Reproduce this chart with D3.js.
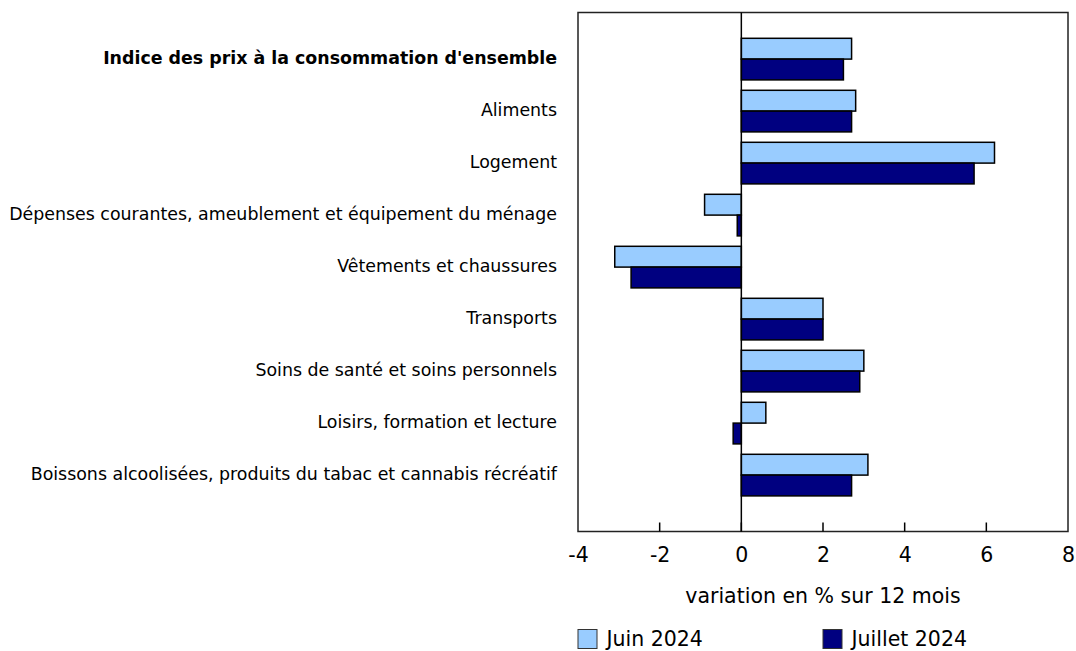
<!DOCTYPE html>
<html>
<head>
<meta charset="utf-8">
<script src="https://cdn.jsdelivr.net/npm/d3@7"></script>
<style>
  body { margin: 0; background: #fff; }
  text { font-family: "DejaVu Sans", Verdana, sans-serif; fill: #000; }
</style>
</head>
<body>
<div id="chart"></div>
<script>
// Categories and values (12-month % change)
var categories = [
    "Indice des prix à la consommation d'ensemble",
    "Aliments",
    "Logement",
    "Dépenses courantes, ameublement et équipement du ménage",
    "Vêtements et chaussures",
    "Transports",
    "Soins de santé et soins personnels",
    "Loisirs, formation et lecture",
    "Boissons alcoolisées, produits du tabac et cannabis récréatif"
];
var juin = [2.7, 2.8, 6.2, -0.9, -3.1, 2.0, 3.0, 0.6, 3.1];
var juillet = [2.5, 2.7, 5.7, -0.1, -2.7, 2.0, 2.9, -0.2, 2.7];
var series_names = ["Juin 2024", "Juillet 2024"];
var series_colors = ["#99ccff", "#000080"];
var x_ticks = [-4, -2, 0, 2, 4, 6, 8];

var chart_width = 1076;
var chart_height = 651;
var plot_left = 578;
var plot_right = 1068;
var plot_top = 12.5;
var plot_bottom = 531.5;

var svg = d3.select('#chart')
    .append('svg')
    .attr('width', chart_width)
    .attr('height', chart_height);

// Scales
var x_scale = d3.scaleLinear()
    .domain([-4, 8])
    .range([plot_left, plot_right]);

var y_scale = d3.scaleBand()
    .domain(d3.range(categories.length))
    .range([plot_top + 20.6, plot_top + 488.6])
    .paddingInner(0.2)
    .paddingOuter(0.1);

var y_inner = d3.scaleBand()
    .domain([0, 1])
    .range([0, y_scale.bandwidth()]);

// Frame
svg.append('rect')
    .attr('x', plot_left)
    .attr('y', plot_top)
    .attr('width', plot_right - plot_left)
    .attr('height', plot_bottom - plot_top)
    .attr('fill', 'none')
    .attr('stroke', '#222')
    .attr('stroke-width', 1.5);

// Bars
var series = [juin, juillet];
series.forEach(function(values, s) {
    svg.selectAll('rect.s' + s)
        .data(values)
        .enter()
        .append('rect')
        .attr('class', 's' + s)
        .attr('x', function(d) { return x_scale(Math.min(0, d)); })
        .attr('y', function(d, i) { return y_scale(i) + y_inner(s); })
        .attr('width', function(d) { return Math.abs(x_scale(d) - x_scale(0)); })
        .attr('height', y_inner.bandwidth())
        .attr('fill', series_colors[s])
        .attr('stroke', '#000')
        .attr('stroke-width', 1.5);
});

// Zero line
svg.append('line')
    .attr('x1', x_scale(0))
    .attr('x2', x_scale(0))
    .attr('y1', plot_top)
    .attr('y2', plot_bottom)
    .attr('stroke', '#000')
    .attr('stroke-width', 1.5);

// x axis
var x_axis = d3.axisBottom(x_scale)
    .tickValues(x_ticks)
    .tickFormat(d3.format('d'))
    .tickSize(0)
    .tickPadding(16);

var gx = svg.append('g')
    .attr('transform', 'translate(0,' + plot_bottom + ')')
    .call(x_axis);
gx.select('.domain').remove();
gx.selectAll('text')
    .attr('font-size', 20.5)
    .attr('font-family', '"DejaVu Sans", Verdana, sans-serif')
    .text(function(d) { return d < 0 ? '-' + Math.abs(d) : d; });

// inward ticks
svg.selectAll('line.tick-mark')
    .data(x_ticks.slice(1, -1))
    .enter()
    .append('line')
    .attr('class', 'tick-mark')
    .attr('x1', function(d) { return x_scale(d); })
    .attr('x2', function(d) { return x_scale(d); })
    .attr('y1', plot_bottom)
    .attr('y2', plot_bottom - 9)
    .attr('stroke', '#000')
    .attr('stroke-width', 1.5);

// Category labels
svg.selectAll('text.cat')
    .data(categories)
    .enter()
    .append('text')
    .attr('class', 'cat')
    .attr('x', 557)
    .attr('y', function(d, i) { return y_scale(i) + y_scale.bandwidth() / 2 - 1; })
    .attr('dy', '0.35em')
    .attr('text-anchor', 'end')
    .attr('font-size', 17.4)
    .attr('font-weight', function(d, i) { return i === 0 ? 'bold' : 'normal'; })
    .text(function(d) { return d; });

// Axis title
svg.append('text')
    .attr('x', x_scale(2))
    .attr('y', 596)
    .attr('dy', '0.35em')
    .attr('text-anchor', 'middle')
    .attr('font-size', 20.5)
    .text('variation en % sur 12 mois');

// Legend
var legend_x = [578, 823];
series_names.forEach(function(name, s) {
    svg.append('rect')
        .attr('x', legend_x[s])
        .attr('y', 629.5)
        .attr('width', 19)
        .attr('height', 19)
        .attr('fill', series_colors[s])
        .attr('stroke', '#333')
        .attr('stroke-width', 1);
    svg.append('text')
        .attr('x', legend_x[s] + 28.5)
        .attr('y', 639)
        .attr('dy', '0.35em')
        .attr('font-size', 20.5)
        .text(name);
});
</script>
</body>
</html>
